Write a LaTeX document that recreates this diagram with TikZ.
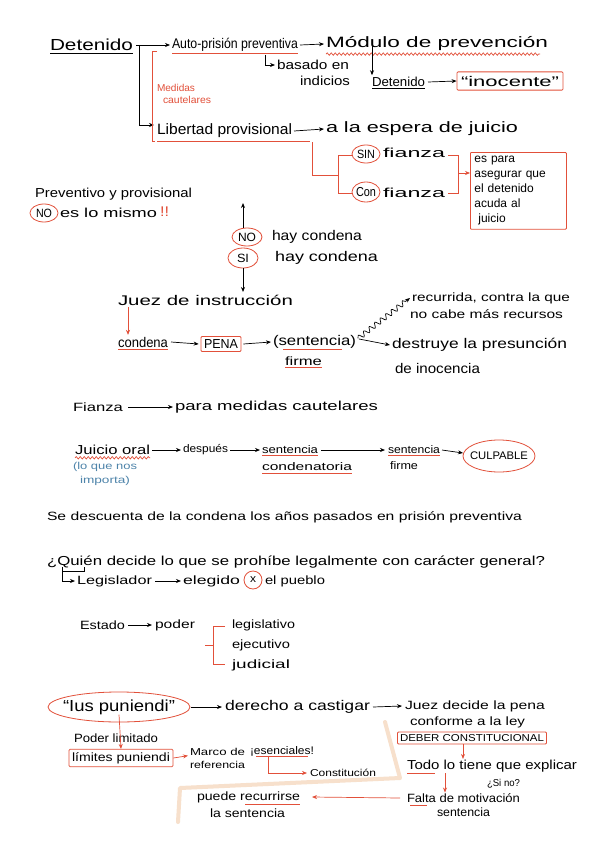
\documentclass[tikz,border=0pt]{standalone}
\usepackage{fontspec}
\setmainfont{Liberation Sans}
\usetikzlibrary{arrows.meta,decorations.pathmorphing,calc}
\definecolor{rd}{RGB}{226,80,58}
\definecolor{bl}{RGB}{78,132,170}
\definecolor{pch}{RGB}{247,224,204}
\newlength\Wlen
\newcommand{\W}[3][14]{\fontsize{#1}{#1}\selectfont\settowidth{\Wlen}{#3}\pgfmathsetmacro\Wf{#2/\Wlen}\scalebox{\Wf}[1]{#3}}
\begin{document}
\begin{tikzpicture}[x=1pt,y=-1pt,
  t/.style={anchor=west,inner sep=0pt,outer sep=0pt},
  ar/.style={-{Stealth[length=5pt,width=4pt]},line width=0.7pt},
  rar/.style={ar,draw=rd},
  rl/.style={draw=rd,line width=0.8pt},
  ul/.style={draw=rd,line width=0.9pt},
  bk/.style={draw=black,line width=0.7pt},
  wav/.style={draw=rd,line width=0.7pt,decorate,decoration={snake,amplitude=1.2pt,segment length=4pt}},
  rbox/.style={draw=rd,line width=0.8pt,inner sep=3pt,rounded corners=1pt},
]
\useasboundingbox (0,0) rectangle (600,848);
\fill[white] (0,0) rectangle (600,848);
% peach highlighter line
\draw[pch,line width=4pt,line cap=round,line join=round] (385,722) -- (400,778) -- (180,788) -- (178,822);

% ---------- row 1 ----------
\node[t] (det) at (50,45) {\W[16]{83}{Detenido}};
\draw[bk] ([yshift=-2pt]det.south west) -- ([yshift=-2pt]det.south east);
\node[t] (auto) at (172,45) {\W{126}{Auto-prisión preventiva}};
\draw[ul] ([yshift=-2pt]auto.south west) -- ([yshift=-2pt]auto.south east);
\node[t] (lib) at (157,131) {\W[15]{135}{Libertad provisional}};
\draw[ul] ([yshift=-3pt]lib.south west) -- ([yshift=-3pt,xshift=18pt]lib.south east);
\coordinate (br) at (139,45);
\draw[bk] ([xshift=3pt]det.east) -- (br);
\draw[ar] (br) -- ([xshift=-2pt]auto.west);
\draw[ar] (br) |- ([xshift=-3pt,yshift=6pt]lib.west);
\draw[rl] (157,51) -- (152,51) -- (152,141) -- (155,141);
\node[t,text=rd] (med) at (157,88) {\W[10]{38}{Medidas}};
\node[t,text=rd] (caut) at (163,100) {\W[10]{48}{cautelares}};

\node[t] (mod) at (326,44) {\W[15]{222}{Módulo de prevención}};
\draw[wav] ([yshift=-3pt]mod.south west) -- ([yshift=-3pt,xshift=-8pt]mod.south east);
\draw[ar] ([xshift=2pt]auto.east) -- ([xshift=-2pt]mod.west);
\node[t] (bas) at (277,65) {\W[13]{72}{basado en}};
\node[t] (ind) at (300,81) {\W[13]{50}{indicios}};
\draw[ar] (265,55) |- ([xshift=-2pt]bas.west);
\node[t] (det2) at (372,82) {\W[13]{53}{Detenido}};
\draw[bk] ([yshift=-2pt]det2.south west) -- ([yshift=-2pt]det2.south east);
\draw[ar] ([xshift=46pt,yshift=5pt]mod.south west) -- ([yshift=2pt]det2.north west);
\node[rbox,inner sep=4pt] (ino) at (510,81) {\W[14]{98}{“inocente”}};
\draw[ar] ([xshift=3pt]det2.east) -- (ino.west);

\node[t] (esp) at (326,129) {\W[15]{192}{a la espera de juicio}};
\draw[ar] ([xshift=2pt]lib.east) -- ([xshift=-2pt]esp.west);

% sin / con fianza
\draw[rl] (312,142) -- (312,175) -- (338,175);
\draw[rl] (352,155) -- (338,155) -- (338,193) -- (352,193);
\node[anchor=center,inner sep=0pt] (sint) at (366,154) {\W[12]{18}{SIN}};
\draw[rl] (sint.center) ellipse (14 and 9);
\node[t] (fz1) at (383,153) {\W[13]{62}{fianza}};
\node[anchor=center,inner sep=0pt] (cont) at (366,192) {\W[13]{20}{Con}};
\draw[rl] (cont.center) ellipse (14 and 10);
\node[t] (fz2) at (383,193) {\W[13]{62}{fianza}};
\draw[rl] (448,155) -- (458,155) -- (458,193) -- (448,193);
\node[rbox,anchor=north west,align=left,text width=88pt,inner sep=4pt,font=\fontsize{12}{15}\selectfont] (box) at (470,152) {es para\\asegurar que\\el detenido\\acuda al\\\ juicio};
\draw[rar] (458,173) -- (box.west |- 0,173);

% preventivo
\node[t] (prev) at (35,194) {\W[13]{157}{Preventivo y provisional}};
\node[anchor=center,inner sep=0pt] (no1) at (44,213) {\W[12]{16}{NO}};
\draw[rl] (no1.center) ellipse (14 and 9);
\node[t] (mismo) at (60,213) {\W[13]{97}{es lo mismo}};
\node[t,text=rd] (ex) at (160,212) {\W[14]{9}{!!}};

% no / si hay condena
\coordinate (upE) at (243,203);
\coordinate (dnE) at (243,292);
\node[anchor=center,inner sep=0pt] (no2) at (247,237) {\W[12]{18}{NO}};
\draw[rl] (no2.center) ellipse (15 and 9);
\node[t] (hay1) at (272,237) {\W[14]{90}{hay condena}};
\node[anchor=center,inner sep=0pt] (si) at (243,258) {\W[12]{12}{SI}};
\draw[rl] (si.center) ellipse (15 and 10);
\node[t] (hay2) at (275,258) {\W[14]{103}{hay condena}};
\draw[ar,line width=1pt] (243,228) -- (upE);
\draw[ar,line width=1pt] (243,268) -- (dnE);

% juez de instruccion
\node[t] (juez) at (118,300) {\W[14]{175}{Juez de instrucción}};
\node[t] (cond) at (118,342) {\W[14]{50}{condena}};
\draw[ul] ([yshift=-2pt]cond.south west) -- ([yshift=-2pt]cond.south east);
\draw[rar] ([xshift=10pt,yshift=-2pt]juez.south west) -- ([xshift=10pt,yshift=2pt]cond.north west);
\node[rbox] (pena) at (221,344) {\W[13]{34}{PENA}};
\draw[ar] ([xshift=3pt]cond.east) -- ([xshift=-2pt]pena.west);
\node[t] (sent) at (273,342) {\W[14]{83}{(sentencia)}};
\draw[ar] ([xshift=2pt]pena.east) -- ([xshift=-2pt]sent.west);
\draw[ul] ([xshift=10pt,yshift=-1pt]sent.south west) -- ([xshift=-14pt,yshift=-1pt]sent.south east);
\node[t] (firme) at (285,361) {\W[12]{37}{firme}};
\draw[ul] ([yshift=-2pt]firme.south west) -- ([yshift=-2pt]firme.south east);
\node[t] (rec1) at (412,298) {\W[12]{158}{recurrida, contra la que}};
\node[t] (rec2) at (410,314) {\W[12]{153}{no cabe más recursos}};
\draw[-{Stealth[length=5pt,width=4pt]},line width=0.7pt,decorate,decoration={snake,amplitude=2.5pt,segment length=7pt,post length=5pt}] ([xshift=2pt,yshift=-3pt]sent.north east) -- ([xshift=-2pt]rec1.west);
\node[t] (des) at (392,345) {\W[14]{175}{destruye la presunción}};
\node[t] (deino) at (395,368) {\W[14]{85}{de inocencia}};
\draw[ar] ([xshift=3pt,yshift=3pt]sent.east) -- ([xshift=-2pt]des.west);

% fianza
\node[t] (fz3) at (73,407) {\W[12]{50}{Fianza}};
\node[t] (para) at (175,407) {\W[13]{203}{para medidas cautelares}};
\draw[ar] ([xshift=5pt]fz3.east) -- ([xshift=-2pt]para.west);

% juicio oral
\node[t] (jo) at (75,450) {\W[13]{75}{Juicio oral}};
\draw[wav] ([yshift=-3pt]jo.south west) -- ([yshift=-3pt]jo.south east);
\node[t,text=bl] (lq1) at (73,467) {\W[10]{64}{(lo que nos}};
\node[t,text=bl] (lq2) at (80,481) {\W[10]{50}{importa)}};
\node[t] (desp) at (183,450) {\W[11]{45}{después}};
\draw[ar] ([xshift=2pt]jo.east) -- ([xshift=-2pt]desp.west);
\node[t] (sc1) at (262,450) {\W[11]{56}{sentencia}};
\draw[ul] ([yshift=-1pt]sc1.south west) -- ([yshift=-1pt]sc1.south east);
\draw[ar] ([xshift=2pt]desp.east) -- ([xshift=-2pt]sc1.west);
\node[t] (cnd) at (262,467) {\W[11]{90}{condenatoria}};
\draw[ul] ([yshift=-2pt]cnd.south west) -- ([yshift=-2pt]cnd.south east);
\node[t] (sf1) at (388,450) {\W[11]{52}{sentencia}};
\draw[ul] ([yshift=-1pt]sf1.south west) -- ([yshift=-1pt]sf1.south east);
\node[t] (fm2) at (390,466) {\W[11]{28}{firme}};
\draw[ar] ([xshift=3pt]sc1.east) -- ([xshift=-3pt]sf1.west);
\node[anchor=center,inner sep=0pt] (culp) at (499,456) {\W[11]{58}{CULPABLE}};
\draw[rl] (culp.center) ellipse (36 and 16);
\draw[ar] ([xshift=2pt]sf1.east) -- (463,453);

% descuenta
\node[t] (desc) at (47,517) {\W[12]{475}{Se descuenta de la condena los años pasados en prisión preventiva}};

% quien decide
\node[t] (quien) at (47,562) {\W[13]{498}{¿Quién decide lo que se prohíbe legalmente con carácter general?}};
\draw[bk] (84,567) -- (84,571) -- (62,571);
\node[t] (legis) at (77,581) {\W[12]{75}{Legislador}};
\draw[ar] (62,567) |- ([xshift=-2pt]legis.west);
\node[t] (eleg) at (183,581) {\W[12]{57}{elegido}};
\draw[ar] ([xshift=3pt]legis.east) -- ([xshift=-2pt]eleg.west);
\node[anchor=center,inner sep=0pt] (xx) at (253,580) {\W[11]{6}{x}};
\draw[rl] (xx.center) ellipse (9 and 9);
\node[t] (pueb) at (265,581) {\W[12]{60}{el pueblo}};

% estado
\node[t] (est) at (80,625) {\W[12]{45}{Estado}};
\node[t] (pod) at (155,625) {\W[12]{40}{poder}};
\draw[ar] ([xshift=3pt]est.east) -- ([xshift=-3pt]pod.west);
\draw[rl] (225,626) -- (213,626) -- (213,664) -- (225,664);
\draw[rl] (205,645) -- (213,645);
\node[t] (lgv) at (232,625) {\W[12]{63}{legislativo}};
\node[t] (eje) at (232,645) {\W[12]{58}{ejecutivo}};
\node[t] (jud) at (232,665) {\W[12]{58}{judicial}};

% ius puniendi
\node[anchor=center,inner sep=0pt] (ius) at (119,707) {\W[16]{112}{“Ius puniendi”}};
\draw[rl] (ius.center) ellipse (71 and 15);
\node[t] (der) at (225,707) {\W[14]{145}{derecho a castigar}};
\draw[ar] (191,707) -- ([xshift=-3pt]der.west);
\node[t] (juez2) at (405,706) {\W[12]{140}{Juez decide la pena}};
\draw[ar] ([xshift=3pt]der.east) -- ([xshift=-3pt]juez2.west);
\node[t] (conf) at (410,722) {\W[12]{115}{conforme a la ley}};
\node[rbox,inner sep=2.5pt] (deber) at (472,738) {\W[10]{144}{DEBER CONSTITUCIONAL}};
\node[t] (todo) at (407,766) {\W[13]{170}{Todo lo tiene que explicar}};
\draw[rar] ([xshift=-9pt]deber.south) -- ([xshift=56pt,yshift=1pt]todo.north west);
\draw[ul] (407,773) -- (435,773);
\node[t] (sino) at (487,784) {\W[10]{33}{¿Si no?}};
\node[t] (falta) at (407,798) {\W[12]{113}{Falta de motivación}};
\node[t] (sent3) at (437,812) {\W[12]{53}{sentencia}};
\draw[rar] ([xshift=38pt,yshift=-1pt]todo.south west) -- ([xshift=38pt,yshift=1pt]falta.north west);
\draw[ul] (410,805) -- (427,805);
\node[t] (puede) at (197,797) {\W[12]{103}{puede recurrirse}};
\draw[ul] (245,804) -- (300,804);
\node[t] (lasent) at (210,813) {\W[12]{75}{la sentencia}};
\draw[rar] ([xshift=-7pt]falta.west) -- ([xshift=12pt]puede.east);

% poder limitado
\node[t] (plim) at (74,738) {\W[12]{84}{Poder limitado}};
\node[rbox] (lim) at (121,758) {\W[12]{98}{límites puniendi}};
\draw[rar] (ius.south) -- (lim.north);
\node[t] (marco) at (190,752) {\W[10]{55}{Marco de}};
\node[t] (refer) at (190,765) {\W[10]{55}{referencia}};
\draw[rar] (lim.east) -- ([xshift=-2pt]marco.south west);
\node[t] (esen) at (250,751) {\W[11]{64}{¡esenciales!}};
\draw[ul] ([xshift=6pt,yshift=-1pt]esen.south west) -- ([xshift=-6pt,yshift=-1pt]esen.south east);
\node[t] (const) at (310,773) {\W[10]{66}{Constitución}};
\draw[rar] ([xshift=18pt,yshift=-1pt]esen.south west) |- ([xshift=-3pt]const.west);
\end{tikzpicture}
\end{document}
